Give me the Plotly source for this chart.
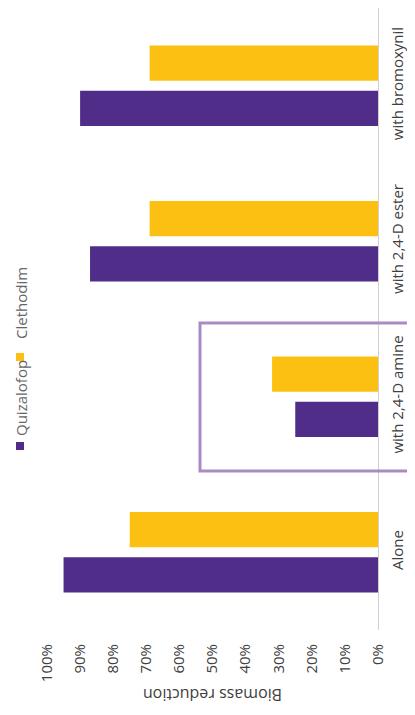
import plotly.graph_objects as go

categories = ["Alone", "with 2,4-D amine", "with 2,4-D ester", "with bromoxynil"]
quizalofop = [95, 25, 87, 90]
clethodim = [75, 32, 69, 69]
series_names = ["Quizalofop", "Clethodim"]
tick_vals = [0, 10, 20, 30, 40, 50, 60, 70, 80, 90, 100]
tick_text = [f"{v}%" for v in tick_vals]

PURPLE = "#512d8a"
YELLOW = "#fbc012"
FONT = "Open Sans"

OFF = 8  # page body margin
W, H = 415 - OFF, 715 - OFF
L, R, T, B = 47 - OFF, 378 - OFF, 5 - OFF, 630 - OFF  # plot area in figure pixels
T = max(T, 0)


def fx(px):
    return (px - OFF - L) / (R - L)


def fy(py):
    return (B - (py - OFF)) / (B - T)


fig = go.Figure()
fig.add_trace(go.Bar(y=categories, x=quizalofop, name=series_names[0], orientation="h",
                     marker=dict(color=PURPLE, line=dict(width=0))))
fig.add_trace(go.Bar(y=categories, x=clethodim, name=series_names[1], orientation="h",
                     marker=dict(color=YELLOW, line=dict(width=0))))

fig.update_layout(
    width=W, height=H,
    margin=dict(l=L, r=W - R, t=T, b=H - B, autoexpand=False),
    barmode="group", bargap=0.42, bargroupgap=0.22,
    showlegend=False,
    plot_bgcolor="white", paper_bgcolor="white",
    font=dict(family=FONT, size=15, color="#404040"),
    xaxis=dict(range=[100, 0], tickvals=tick_vals, ticktext=tick_text, tickangle=-90,
               showgrid=False, zeroline=False, showline=False, ticklabelstandoff=10,
               automargin=False, tickfont=dict(size=15, color="#404040")),
    yaxis=dict(side="right", tickangle=-90, showgrid=False, zeroline=False,
               showline=True, linecolor="#d0d0d0", linewidth=1, automargin=False,
               tickfont=dict(size=15, color="#404040"), ticklabelstandoff=6),
)

# Highlight box around the amine group
fig.add_shape(type="rect", xref="paper", yref="paper",
              x0=fx(200), x1=fx(412), y0=fy(471), y1=fy(323),
              line=dict(color="#a98bc4", width=3), fillcolor="rgba(0,0,0,0)")

# Axis title (upside down)
fig.add_annotation(text="Biomass reduction", xref="paper", yref="paper",
                   x=fx(213), y=fy(695), showarrow=False, textangle=180,
                   xanchor="center", yanchor="middle",
                   font=dict(size=16, color="#404040"))

# Rotated legend
legend_items = [(series_names[0], PURPLE, 446, 398), (series_names[1], YELLOW, 357, 303)]
for name, col, sq_y, txt_y in legend_items:
    fig.add_shape(type="rect", xref="paper", yref="paper",
                  x0=fx(16), x1=fx(24), y0=fy(sq_y + 4), y1=fy(sq_y - 4),
                  line=dict(width=0), fillcolor=col)
    fig.add_annotation(text=name, xref="paper", yref="paper",
                       x=fx(21), y=fy(txt_y), showarrow=False, textangle=-90,
                       xanchor="center", yanchor="middle",
                       font=dict(size=15, color="#666666"))

fig.write_html("out.html")
